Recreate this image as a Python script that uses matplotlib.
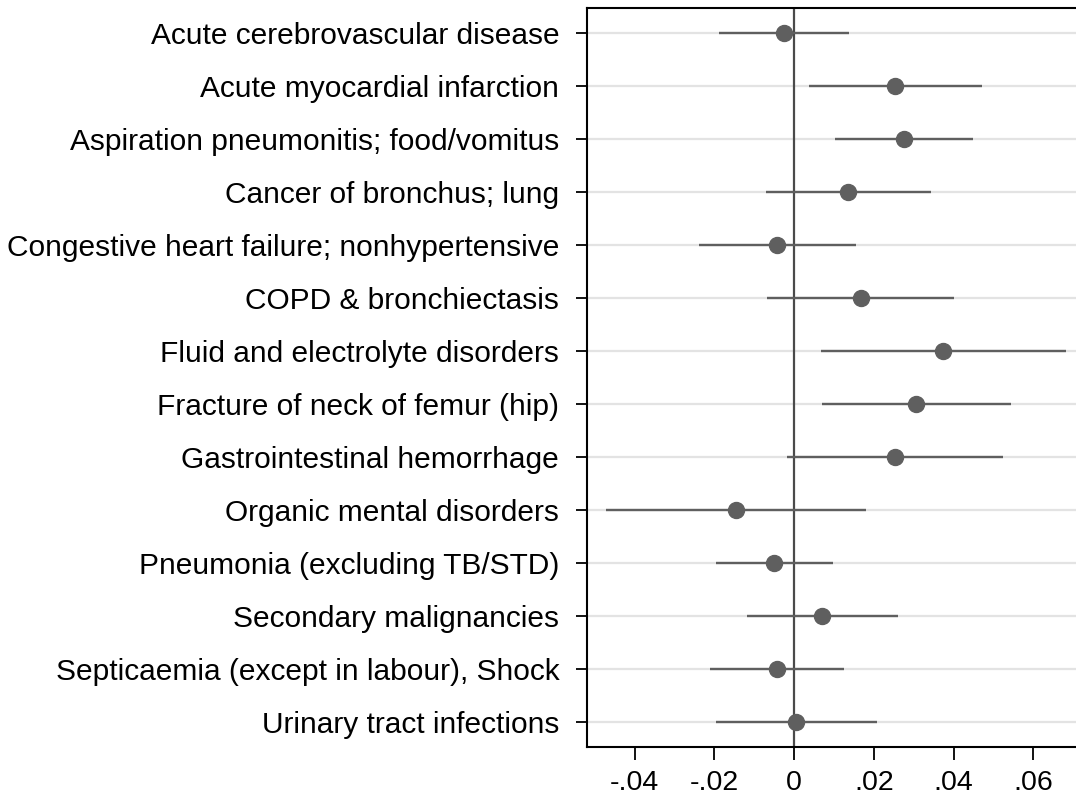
import matplotlib.pyplot as plt

# Estimates with 95% confidence intervals by diagnosis group
conditions = [
    'Acute cerebrovascular disease',
    'Acute myocardial infarction',
    'Aspiration pneumonitis; food/vomitus',
    'Cancer of bronchus; lung',
    'Congestive heart failure; nonhypertensive',
    'COPD & bronchiectasis',
    'Fluid and electrolyte disorders',
    'Fracture of neck of femur (hip)',
    'Gastrointestinal hemorrhage',
    'Organic mental disorders',
    'Pneumonia (excluding TB/STD)',
    'Secondary malignancies',
    'Septicaemia (except in labour), Shock',
    'Urinary tract infections',
]
estimate = [-0.0026, 0.0254, 0.0275, 0.0136, -0.0042, 0.0167, 0.0374,
            0.0305, 0.0253, -0.0147, -0.0050, 0.0070, -0.0044, 0.0004]
ci_low = [-0.0189, 0.0038, 0.0102, -0.0072, -0.0238, -0.0068, 0.0067,
          0.0069, -0.0017, -0.0473, -0.0197, -0.0119, -0.0212, -0.0197]
ci_high = [0.0138, 0.0470, 0.0449, 0.0344, 0.0155, 0.0401, 0.0681,
           0.0543, 0.0524, 0.0179, 0.0098, 0.0261, 0.0125, 0.0207]
xticks = [-0.04, -0.02, 0, 0.02, 0.04, 0.06]
xticklabels = ['-.04', '-.02', '0', '.02', '.04', '.06']

plt.rcParams['font.family'] = ['Liberation Sans', 'DejaVu Sans']

fig = plt.figure(figsize=(10.76, 7.94), dpi=100)
ax = fig.add_axes([0.5455, 0.0592, 0.4545, 0.9307])

ypos = list(range(1, len(conditions) + 1))

for y in ypos:
    ax.axhline(y, color='#e3e3e3', lw=1.6, zorder=0)
ax.axvline(0, color='#4a4a4a', lw=1.6, zorder=1)

ax.hlines(ypos, ci_low, ci_high, color='#5f5f5f', lw=1.7, zorder=2)
ax.plot(estimate, ypos, 'o', color='#5f5f5f', markersize=11.5, zorder=3)

ax.set_xlim(-0.052, 0.0707)
ax.set_ylim(len(conditions) + 0.48, 0.52)
ax.set_yticks(ypos)
ax.set_yticklabels(conditions, fontsize=21.5)
ax.set_xticks(xticks)
ax.set_xticklabels(xticklabels, fontsize=20.5)

ax.tick_params(axis='y', length=8, width=1.3, pad=12)
ax.tick_params(axis='x', length=9.5, width=1.3, pad=7)
ax.spines['right'].set_visible(False)
for s in ['left', 'top', 'bottom']:
    ax.spines[s].set_linewidth(1.5)

fig.savefig('out.png', dpi=100)
